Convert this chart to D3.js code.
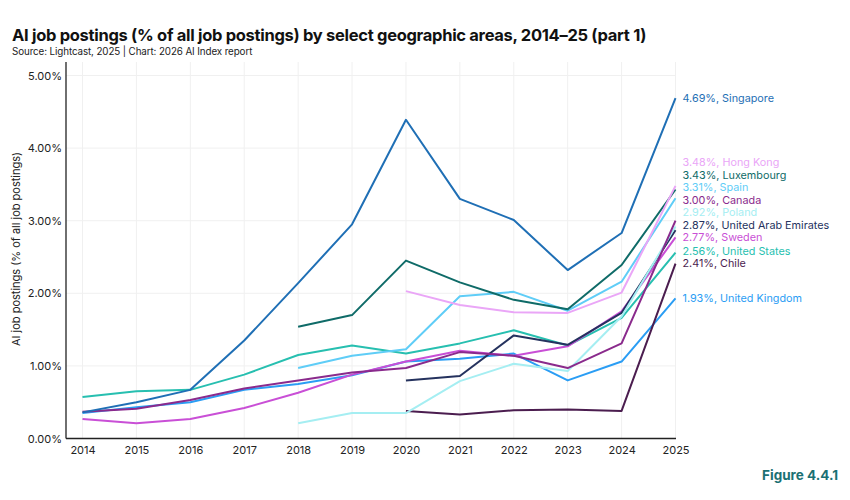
<!DOCTYPE html>
<html>
<head>
<meta charset="utf-8">
<script src="https://cdn.jsdelivr.net/npm/d3@7"></script>
<style>
  html, body { margin: 0; padding: 0; background: #ffffff; }
  svg { display: block; font-family: "Inter", "Lato", "DejaVu Sans", sans-serif; }
</style>
</head>
<body>
<svg id="chart" width="850" height="500"></svg>
<script>
const years = [2014, 2015, 2016, 2017, 2018, 2019, 2020, 2021, 2022, 2023, 2024, 2025];
const yTicks = [0, 1, 2, 3, 4, 5];

const countries = ["Singapore", "Hong Kong", "Luxembourg", "Spain", "Canada", "Poland",
  "United Arab Emirates", "Sweden", "United States", "Chile", "United Kingdom"];
const colors = ["#1f6fb5", "#eaa6f7", "#0f6b68", "#5fcdf7", "#8a2a8c", "#a5eef2",
  "#25325e", "#c94fd6", "#27bfb0", "#4b1d4f", "#2a9df4"];

// values in %, null = no data
const singapore = [0.36, 0.50, 0.67, 1.35, 2.14, 2.95, 4.39, 3.30, 3.01, 2.32, 2.83, 4.69];
const hongKong = [null, null, null, null, null, null, 2.03, 1.84, 1.74, 1.73, 2.01, 3.48];
const luxembourg = [null, null, null, null, 1.54, 1.70, 2.45, 2.15, 1.91, 1.78, 2.39, 3.43];
const spain = [null, null, null, null, 0.97, 1.14, 1.23, 1.96, 2.02, 1.76, 2.16, 3.31];
const canada = [0.37, 0.41, 0.53, 0.69, 0.80, 0.91, 0.97, 1.19, 1.14, 0.97, 1.31, 3.00];
const poland = [null, null, null, null, 0.21, 0.35, 0.35, 0.79, 1.03, 0.93, 1.68, 2.92];
const uae = [null, null, null, null, null, null, 0.80, 0.86, 1.42, 1.29, 1.73, 2.87];
const sweden = [0.27, 0.21, 0.27, 0.42, 0.63, 0.88, 1.06, 1.21, 1.14, 1.27, 1.75, 2.77];
const unitedStates = [0.57, 0.65, 0.67, 0.88, 1.15, 1.28, 1.17, 1.31, 1.49, 1.28, 1.66, 2.56];
const chile = [null, null, null, null, null, null, 0.38, 0.33, 0.39, 0.40, 0.38, 2.41];
const unitedKingdom = [0.35, 0.43, 0.50, 0.67, 0.75, 0.87, 1.06, 1.10, 1.17, 0.80, 1.06, 1.93];

const seriesValues = [singapore, hongKong, luxembourg, spain, canada, poland, uae, sweden,
  unitedStates, chile, unitedKingdom];

const svg = d3.select("#chart");

const x = d3.scaleLinear().domain([2014, 2025]).range([82.5, 675.5]);
const y = d3.scaleLinear().domain([0, 5]).range([438.5, 75.5]);
const plotLeft = 66, plotRight = 676;

// title
svg.append("text").attr("x", 12).attr("y", 41)
  .attr("font-size", 16.5).attr("font-weight", 700).attr("fill", "#111")
  .attr("letter-spacing", -0.3)
  .text("AI job postings (% of all job postings) by select geographic areas, 2014–25 (part 1)");
svg.append("text").attr("x", 12).attr("y", 55)
  .attr("font-size", 9.8).attr("fill", "#222").attr("letter-spacing", -0.1)
  .text("Source: Lightcast, 2025 | Chart: 2026 AI Index report");

// gridlines
const grid = svg.append("g");
grid.selectAll("line.h").data(yTicks.slice(1)).join("line")
  .attr("x1", plotLeft).attr("x2", plotRight)
  .attr("y1", d => y(d)).attr("y2", d => y(d))
  .attr("stroke", "#f0f0f0").attr("stroke-width", 1);
grid.selectAll("line.v").data(years).join("line")
  .attr("x1", d => x(d)).attr("x2", d => x(d))
  .attr("y1", y(0)).attr("y2", 62)
  .attr("stroke", "#f0f0f0").attr("stroke-width", 1);

// axes
const yAxis = d3.axisLeft(y).tickValues(yTicks).tickSize(0).tickPadding(4)
  .tickFormat(d => d3.format(".2f")(d) + "%");
const gy = svg.append("g").attr("transform", `translate(${plotLeft},0)`).call(yAxis);
gy.select(".domain").remove();
gy.selectAll("text").attr("font-size", 11).attr("fill", "#222")
  .style("font-family", "Inter, Lato, sans-serif");

const xAxis = d3.axisBottom(x).tickValues(years).tickSize(0).tickPadding(8)
  .tickFormat(d3.format("d"));
const gx = svg.append("g").attr("transform", `translate(0,${y(0)})`).call(xAxis);
gx.select(".domain").remove();
gx.selectAll("text").attr("font-size", 11).attr("fill", "#222")
  .style("font-family", "Inter, Lato, sans-serif");

svg.append("line").attr("x1", plotLeft).attr("x2", plotLeft)
  .attr("y1", 62).attr("y2", y(0)).attr("stroke", "#222").attr("stroke-width", 1.3);
svg.append("line").attr("x1", plotLeft).attr("x2", plotRight)
  .attr("y1", y(0)).attr("y2", y(0)).attr("stroke", "#222").attr("stroke-width", 1.3);

// y axis title
svg.append("text")
  .attr("transform", `translate(20,${(y(0) + y(5)) / 2 - 8}) rotate(-90)`)
  .attr("text-anchor", "middle").attr("font-size", 11).attr("fill", "#222")
  .text("AI job postings (% of all job postings)");

// lines
const line = d3.line()
  .defined(d => d.v !== null)
  .x(d => x(d.year)).y(d => y(d.v));

const series = countries.map((c, i) => ({
  name: c, color: colors[i],
  pts: years.map((yr, j) => ({ year: yr, v: seriesValues[i][j] }))
}));

// draw in reverse so top-listed series appear over lower ones
svg.append("g").selectAll("path").data(series.slice().reverse()).join("path")
  .attr("d", d => line(d.pts))
  .attr("fill", "none").attr("stroke", d => d.color)
  .attr("stroke-width", 2).attr("stroke-linejoin", "round");

// end labels with bottom-up dodge
const gap = 12.5;
const labels = series.map(s => {
  const last = s.pts[s.pts.length - 1].v;
  return { name: s.name, color: s.color, v: last, y: y(last) };
}).sort((a, b) => b.y - a.y);
for (let i = 1; i < labels.length; i++) {
  labels[i].y = Math.min(labels[i].y, labels[i - 1].y - gap);
}
svg.append("g").selectAll("text").data(labels).join("text")
  .attr("x", x(2025) + 7).attr("y", d => d.y)
  .attr("dy", "0.35em").attr("font-size", 10.8).attr("fill", d => d.color)
  .text(d => d3.format(".2f")(d.v) + "%, " + d.name);

// figure label
svg.append("text").attr("x", 838).attr("y", 480).attr("text-anchor", "end")
  .attr("font-size", 13.5).attr("font-weight", 700).attr("fill", "#1a7073")
  .text("Figure 4.4.1");
</script>
</body>
</html>
